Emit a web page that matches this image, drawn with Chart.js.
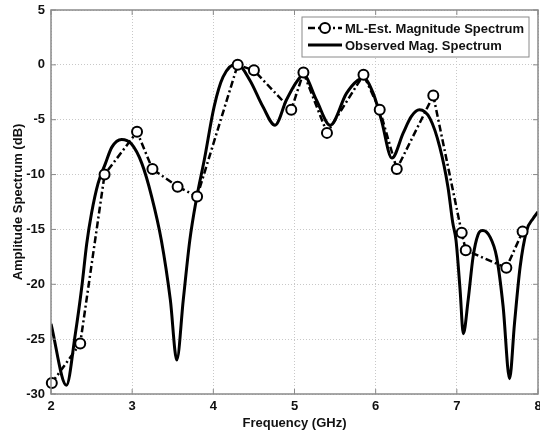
<!DOCTYPE html>
<html>
<head>
<meta charset="utf-8">
<script src="https://cdn.jsdelivr.net/npm/chart.js@4.4.0/dist/chart.umd.min.js"></script>
<style>
  html, body { margin: 0; padding: 0; background: #fff; }
  #wrap { width: 540px; height: 431px; }
</style>
</head>
<body>
<div id="wrap"><canvas id="spec"></canvas></div>
<script>
// ML estimate (markers)
var mlFreq = [2.01, 2.36, 2.66, 3.06, 3.25, 3.56, 3.80, 4.30, 4.50, 4.96, 5.11, 5.40, 5.85, 6.05, 6.26, 6.71, 7.06, 7.11, 7.61, 7.81];
var mlMag  = [-29.0, -25.4, -10.0, -6.1, -9.5, -11.1, -12.0, 0.0, -0.5, -4.1, -0.7, -6.2, -0.9, -4.1, -9.5, -2.8, -15.3, -16.9, -18.5, -15.2];

// observed spectrum (solid)
var obsFreq = [2.00, 2.19, 2.30, 2.38, 2.44, 2.50, 2.58, 2.67, 2.75, 2.87, 2.99, 3.12, 3.24, 3.36, 3.47, 3.55, 3.63, 3.71, 3.79, 3.89, 4.01, 4.12, 4.29, 4.45, 4.61, 4.76, 4.90, 5.03, 5.11, 5.27, 5.44, 5.64, 5.78, 5.85, 5.97, 6.07, 6.20, 6.34, 6.44, 6.54, 6.67, 6.79, 6.89, 6.95, 6.99, 7.04, 7.08, 7.14, 7.20, 7.26, 7.32, 7.41, 7.49, 7.57, 7.65, 7.71, 7.78, 7.86, 7.94, 8.00];
var obsMag  = [-23.6, -29.2, -24.5, -20.2, -16.3, -13.5, -10.8, -9.0, -7.5, -6.8, -7.2, -9.0, -12.0, -16.0, -21.4, -26.9, -21.4, -16.0, -12.3, -8.6, -3.8, -1.1, 0.1, -1.4, -3.8, -5.5, -3.2, -1.5, -0.9, -3.2, -5.5, -2.6, -1.4, -1.2, -2.6, -5.0, -8.5, -6.2, -4.7, -4.1, -4.9, -7.5, -11.1, -14.4, -16.0, -20.5, -24.5, -21.4, -17.5, -15.5, -15.1, -15.7, -17.5, -22.0, -28.6, -23.6, -18.4, -15.1, -14.0, -13.4];

var xTicks = [2, 3, 4, 5, 6, 7, 8];
var yTicks = [-30, -25, -20, -15, -10, -5, 0, 5];

var legendNames = ['ML-Est. Magnitude Spectrum', 'Observed Mag. Spectrum'];

function pts(xs, ys) {
  return xs.map(function (x, i) { return { x: x, y: ys[i] }; });
}

var font = { family: '"Liberation Sans", Arial, sans-serif', size: 13, weight: 'bold' };

// box, inward ticks and legend, matlab style
var framePlugin = {
  id: 'frame',
  afterDraw: function (chart) {
    var c = chart.ctx, a = chart.chartArea;
    var sx = chart.scales.x, sy = chart.scales.y;
    c.save();
    c.strokeStyle = '#8a8a8a';
    c.lineWidth = 1.5;
    c.strokeRect(a.left, a.top, a.right - a.left, a.bottom - a.top);
    c.lineWidth = 1;
    c.beginPath();
    xTicks.forEach(function (t) {
      var px = sx.getPixelForValue(t);
      c.moveTo(px, a.bottom); c.lineTo(px, a.bottom - 5);
      c.moveTo(px, a.top); c.lineTo(px, a.top + 5);
    });
    yTicks.forEach(function (t) {
      var py = sy.getPixelForValue(t);
      c.moveTo(a.left, py); c.lineTo(a.left + 5, py);
      c.moveTo(a.right, py); c.lineTo(a.right - 5, py);
    });
    c.stroke();

    // legend box
    var lx = 302, ly = 17, lw = 227, lh = 40;
    c.fillStyle = '#fff';
    c.fillRect(lx, ly, lw, lh);
    c.strokeStyle = '#8a8a8a';
    c.lineWidth = 1;
    c.strokeRect(lx, ly, lw, lh);
    c.font = 'bold 13px "Liberation Sans", Arial, sans-serif';
    c.textBaseline = 'middle';
    c.fillStyle = '#111';
    chart.data.datasets.forEach(function (ds, i) {
      var yy = ly + 11 + i * 17;
      c.strokeStyle = '#000';
      c.lineWidth = ds.borderWidth;
      c.setLineDash(ds.borderDash || []);
      c.beginPath();
      c.moveTo(lx + 6, yy); c.lineTo(lx + 40, yy);
      c.stroke();
      c.setLineDash([]);
      if (ds.pointRadius > 0) {
        c.beginPath();
        c.arc(lx + 23, yy, ds.pointRadius, 0, Math.PI * 2);
        c.fillStyle = '#fff';
        c.fill();
        c.lineWidth = ds.pointBorderWidth;
        c.stroke();
        c.fillStyle = '#111';
      }
      c.fillText(legendNames[i], lx + 43, yy + 1);
    });
    c.restore();
  }
};

var ctx = document.getElementById('spec').getContext('2d');
var spec = new Chart(ctx, {
  type: 'scatter',
  data: {
    datasets: [{
      label: legendNames[0],
      data: pts(mlFreq, mlMag),
      showLine: true,
      borderColor: '#000',
      borderWidth: 2.5,
      borderDash: [7, 3, 2, 3],
      pointRadius: 5,
      pointBorderWidth: 2,
      pointBackgroundColor: '#fff',
      pointBorderColor: '#000',
      tension: 0,
      clip: 8
    }, {
      label: legendNames[1],
      data: pts(obsFreq, obsMag),
      showLine: true,
      borderColor: '#000',
      borderWidth: 3,
      pointRadius: 0,
      cubicInterpolationMode: 'monotone'
    }]
  },
  options: {
    responsive: true,
    maintainAspectRatio: false,
    animation: false,
    layout: { autoPadding: false, padding: { top: 10, right: 2, left: 0, bottom: 0 } },
    plugins: {
      legend: { display: false },
      tooltip: { enabled: false }
    },
    scales: {
      x: {
        type: 'linear',
        min: 2, max: 8,
        afterFit: function (s) { s.height = 37; s.paddingLeft = 0; s.paddingRight = 0; },
        afterBuildTicks: function (s) { s.ticks = xTicks.map(function (v) { return { value: v }; }); },
        ticks: { color: '#111', font: font, padding: 5, maxRotation: 0 },
        grid: { color: '#c8c8c8', drawTicks: false, lineWidth: 1 },
        border: { display: false, dash: [1, 2] },
        title: { display: true, text: 'Frequency (GHz)', color: '#111', font: font, padding: { top: 0, bottom: 0 } }
      },
      y: {
        type: 'linear',
        min: -30, max: 5,
        afterFit: function (s) { s.width = 51; s.paddingTop = 0; s.paddingBottom = 0; },
        afterBuildTicks: function (s) { s.ticks = yTicks.map(function (v) { return { value: v }; }); },
        ticks: { color: '#111', font: font, padding: 6 },
        grid: { color: '#c8c8c8', drawTicks: false, lineWidth: 1 },
        border: { display: false, dash: [1, 2] },
        title: { display: true, text: 'Amplitude Spectrum (dB)', color: '#111', font: font, padding: { top: 11, bottom: 0 } }
      }
    }
  },
  plugins: [framePlugin]
});
</script>
</body>
</html>
